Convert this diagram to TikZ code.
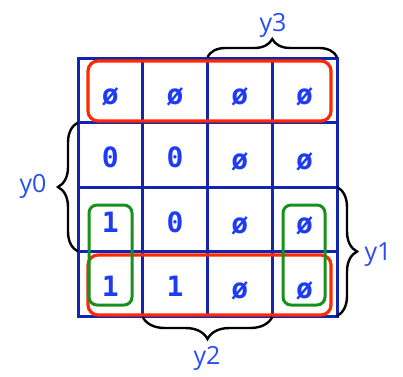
\documentclass[tikz,border=0pt]{standalone}
\usepackage{fontspec}
\setmainfont{Open Sans}
\newfontfamily\cellfont{DejaVu Sans Mono}
\usetikzlibrary{decorations.pathreplacing}
\definecolor{gridblue}{HTML}{1224B0}
\definecolor{txtblue}{HTML}{1E3CF5}
\definecolor{lblblue}{HTML}{2A4CF0}
\definecolor{grpred}{HTML}{FF2A00}
\definecolor{grpgreen}{HTML}{18901C}
\tikzset{
  cell/.style={font=\cellfont\bfseries\fontsize{28}{28}\selectfont, text=txtblue, inner sep=0pt},
  lbl/.style={font=\fontsize{25}{25}\selectfont, text=lblblue, inner sep=0pt},
  bracestyle/.style={draw=black, line width=2.4pt, decorate, decoration={brace, amplitude=#1}},
  redgrp/.style={draw=grpred, line width=3.2pt, rounded corners=10pt},
  greengrp/.style={draw=grpgreen, line width=3pt, rounded corners=8pt},
}
\begin{document}
\begin{tikzpicture}[x=1pt,y=-1pt]
\useasboundingbox (0,0) rectangle (403,376);
% grid
\draw[gridblue, line width=3pt] (78,58) rectangle (337,316);
\foreach \x in {142.75,207.5,272.25} \draw[gridblue, line width=3pt] (\x,58) -- (\x,316);
\foreach \y in {122.5,187,251.5} \draw[gridblue, line width=3pt] (78,\y) -- (337,\y);
% cells
\node[cell] (c11) at (110.4,97) {ø};
\node[cell] (c12) at (175.1,97) {ø};
\node[cell] (c13) at (239.9,97) {ø};
\node[cell] (c14) at (304.6,97) {ø};
\node[cell] (c21) at (110.4,157.5) {0};
\node[cell] (c22) at (175.1,157.5) {0};
\node[cell] (c23) at (239.9,161.5) {ø};
\node[cell] (c24) at (304.6,161.5) {ø};
\node[cell] (c31) at (110.4,222) {1};
\node[cell] (c32) at (175.1,222) {0};
\node[cell] (c33) at (239.9,226) {ø};
\node[cell] (c34) at (304.6,226) {ø};
\node[cell] (c41) at (110.4,286.5) {1};
\node[cell] (c42) at (175.1,286.5) {1};
\node[cell] (c43) at (239.9,290.5) {ø};
\node[cell] (c44) at (304.6,290.5) {ø};
% groups
\draw[redgrp] (88,61) rectangle (331,121);
\draw[redgrp] (88,255) rectangle (331,315);
\draw[greengrp] (89,205) rectangle (132,305);
\draw[greengrp] (283,205) rectangle (325,305);
% braces
\coordinate (b3a) at (207.5,57);
\coordinate (b3b) at (337,57);
\coordinate (b0a) at (78,251.5);
\coordinate (b0b) at (78,122.5);
\coordinate (b1a) at (337,187);
\coordinate (b1b) at (337,316);
\coordinate (b2a) at (272.25,317);
\coordinate (b2b) at (142.75,317);
\draw[bracestyle=18pt] (b3a) -- (b3b);
\draw[bracestyle=20pt] (b0a) -- (b0b);
\draw[bracestyle=20pt] (b1a) -- (b1b);
\draw[bracestyle=22pt] (b2a) -- (b2b);
% labels
\node[lbl] (y3) at (273,25) {y3};
\node[lbl] (y0) at (33,186) {y0};
\node[lbl] (y1) at (378,255) {y1};
\node[lbl] (y2) at (207,358) {y2};
\end{tikzpicture}
\end{document}
